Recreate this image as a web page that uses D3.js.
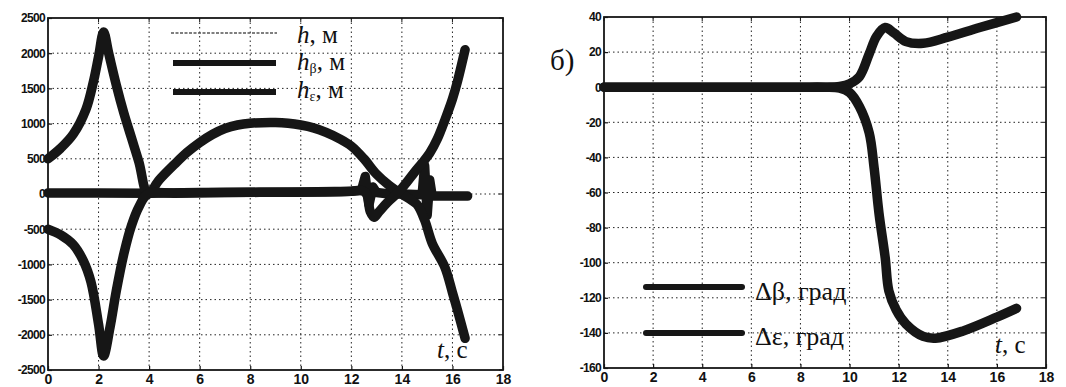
<!DOCTYPE html>
<html>
<head>
<meta charset="utf-8">
<script src="https://cdn.jsdelivr.net/npm/d3@7"></script>
<style>
  body { margin: 0; background: #fff; }
  svg { display: block; }
  .tick text { font-family: "Liberation Sans", Arial, sans-serif; font-weight: bold; fill: #111; }
  .serif { font-family: "Liberation Serif", "DejaVu Serif", serif; fill: #111; }
</style>
</head>
<body>
<svg id="chart" width="1066" height="387"></svg>
<script>
// ---- data ----
const xTicks = [0, 2, 4, 6, 8, 10, 12, 14, 16, 18];
const leftYTicks = [2500, 2000, 1500, 1000, 500, 0, -500, -1000, -1500, -2000, -2500];
const rightYTicks = [40, 20, 0, -20, -40, -60, -80, -100, -120, -140, -160];

// h, м  (flat line near zero with spikes)
const hT = [0, 2, 4, 6, 8, 10, 12, 12.4, 12.55, 12.7, 12.85, 13.0, 13.5, 14.0, 14.8, 14.9, 15.0, 15.1, 15.2, 16.6];
const hV = [15, 15, 10, 20, 25, 30, 40, 50, 250, -150, 100, 20, 0, 0, -10, 400, -300, 200, -30, -30];

// h_beta, м
const hBetaT = [0, 0.5, 1.0, 1.5, 1.8, 2.0, 2.2, 2.4, 2.7, 3.0, 3.3, 3.6, 3.95, 4.4, 5.0, 5.5, 6.0, 6.5, 7.0, 7.5, 8.0, 9.0, 9.5, 10.0, 10.5, 11.0, 11.5, 12.0, 12.5, 13.0, 13.5, 13.9, 14.3, 14.6, 14.9, 15.2, 15.7, 16.0, 16.2, 16.5];
const hBetaV = [500, 650, 850, 1200, 1600, 1950, 2300, 2000, 1550, 1150, 800, 450, 0, 200, 420, 590, 730, 845, 930, 980, 1005, 1015, 1005, 980, 940, 875, 790, 680, 500, 280, 120, 20, -70, -150, -370, -700, -1040, -1400, -1650, -2050];

// h_eps, м
const hEpsT = [0, 0.5, 1.0, 1.4, 1.7, 2.0, 2.2, 2.45, 2.7, 3.0, 3.3, 3.6, 3.95, 5, 7, 9, 11, 12.0, 12.4, 12.6, 12.75, 12.9, 13.1, 13.4, 13.85, 14.2, 14.5, 14.8, 15.1, 15.4, 15.7, 16.0, 16.2, 16.5];
const hEpsV = [-500, -580, -720, -950, -1250, -1850, -2300, -1900, -1380, -850, -450, -180, 0, 10, 20, 25, 30, 40, 50, 0, -250, -330, -250, -130, 20, 170, 310, 440, 580, 780, 1050, 1350, 1600, 2050];

// delta beta, град
const dBetaT = [0, 2, 4, 6, 8, 9.0, 9.6, 10.0, 10.4, 10.8, 11.1, 11.45, 11.8, 12.3, 13.0, 14.0, 15.3, 16.8];
const dBetaV = [0, 0, 0, 0, 0, 0, 0.5, 2, 6, 19, 29, 34, 31, 26, 25, 28.5, 34, 40];

// delta eps, град
const dEpsT = [0, 2, 4, 6, 8, 9.0, 9.6, 10.0, 10.4, 10.8, 11.0, 11.2, 11.45, 11.6, 11.9, 12.3, 13.0, 13.5, 14.6, 16.0, 16.8];
const dEpsV = [0, 0, 0, 0, 0, 0, -0.5, -3, -11, -26, -46, -72, -97, -116, -127, -135, -142, -143, -139, -131, -126];

const zip = (ts, vs) => ts.map((t, i) => ({ t: t, v: vs[i] }));

const svg = d3.select("#chart");
const ink = "#161616";

// draws one MATLAB-like panel, returns scales
function drawPanel(cfg) {
    const x = d3.scaleLinear().domain([0, 18]).range([cfg.left, cfg.right]);
    const y = d3.scaleLinear().domain(cfg.yDomain).range([cfg.bottom, cfg.top]);
    const g = svg.append("g");

    // dotted grid
    g.selectAll(".gx").data(xTicks.slice(1, -1)).join("line")
        .attr("x1", d => x(d)).attr("x2", d => x(d))
        .attr("y1", cfg.top).attr("y2", cfg.bottom)
        .attr("stroke", "#222").attr("stroke-width", 1).attr("stroke-dasharray", "1.5,3");
    g.selectAll(".gy").data(cfg.yTicks.slice(1, -1)).join("line")
        .attr("x1", cfg.left).attr("x2", cfg.right)
        .attr("y1", d => y(d)).attr("y2", d => y(d))
        .attr("stroke", "#222").attr("stroke-width", 1).attr("stroke-dasharray", "1.5,3");

    // axes with inward ticks
    const xAxis = g.append("g").attr("transform", `translate(0,${cfg.bottom})`)
        .call(d3.axisBottom(x).tickValues(xTicks).tickSize(-4).tickPadding(6).tickFormat(d3.format("d")));
    const yAxis = g.append("g").attr("transform", `translate(${cfg.left},0)`)
        .call(d3.axisLeft(y).tickValues(cfg.yTicks).tickSize(-4).tickPadding(3).tickFormat(d => String(d)));
    [xAxis, yAxis].forEach(a => {
        a.select(".domain").remove();
        a.selectAll(".tick line").attr("stroke", ink).attr("stroke-width", 1.2);
    });
    xAxis.selectAll(".tick text").style("font-size", "14px").attr("dy", "0.55em");
    yAxis.selectAll(".tick text").style("font-size", "12px").style("letter-spacing", "-0.7px");

    // ticks on top and right edges too
    g.selectAll(".tt").data(xTicks).join("line")
        .attr("x1", d => x(d)).attr("x2", d => x(d))
        .attr("y1", cfg.top).attr("y2", cfg.top + 4).attr("stroke", ink);
    g.selectAll(".tr").data(cfg.yTicks).join("line")
        .attr("x1", cfg.right - 4).attr("x2", cfg.right)
        .attr("y1", d => y(d)).attr("y2", d => y(d)).attr("stroke", ink);

    // frame
    g.append("rect")
        .attr("x", cfg.left).attr("y", cfg.top)
        .attr("width", cfg.right - cfg.left).attr("height", cfg.bottom - cfg.top)
        .attr("fill", "none").attr("stroke", ink).attr("stroke-width", 1.8);

    return { x: x, y: y, g: g };
}

function drawCurve(p, data, curve) {
    const line = d3.line().x(d => p.x(d.t)).y(d => p.y(d.v)).curve(curve);
    p.g.append("path").datum(data)
        .attr("d", line)
        .attr("fill", "none").attr("stroke", ink)
        .attr("stroke-width", 9.5).attr("stroke-linecap", "round").attr("stroke-linejoin", "round");
}

// ---- left panel ----
const L = drawPanel({ left: 48, right: 503, top: 18, bottom: 370, yDomain: [-2500, 2500], yTicks: leftYTicks });
drawCurve(L, zip(hT, hV), d3.curveLinear);
drawCurve(L, zip(hBetaT, hBetaV), d3.curveCatmullRom.alpha(0.5));
drawCurve(L, zip(hEpsT, hEpsV), d3.curveCatmullRom.alpha(0.5));

// legend (left)
svg.append("line").attr("x1", 171).attr("x2", 277).attr("y1", 33).attr("y2", 33)
    .attr("stroke", "#555").attr("stroke-width", 1.5).attr("stroke-dasharray", "3,1.5");
[63, 92].forEach(yy => {
    svg.append("line").attr("x1", 173).attr("x2", 276).attr("y1", yy).attr("y2", yy)
        .attr("stroke", ink).attr("stroke-width", 6);
});
const legL = [
    { y: 43, sub: "" },
    { y: 70, sub: "β" },
    { y: 98, sub: "ε" }
];
legL.forEach(d => {
    const t = svg.append("text").attr("class", "serif").attr("x", 297).attr("y", d.y).attr("font-size", 25);
    t.append("tspan").attr("font-style", "italic").text("h");
    if (d.sub) t.append("tspan").attr("font-size", 14).attr("dy", 3).text(d.sub);
    t.append("tspan").attr("dy", d.sub ? -3 : 0).text(", м");
});
const tl = svg.append("text").attr("class", "serif").attr("x", 437).attr("y", 358).attr("font-size", 25);
tl.append("tspan").attr("font-style", "italic").text("t");
tl.append("tspan").text(", с");

// ---- right panel ----
const R = drawPanel({ left: 604, right: 1046, top: 17, bottom: 368, yDomain: [-160, 40], yTicks: rightYTicks });
drawCurve(R, zip(dBetaT, dBetaV), d3.curveCatmullRom.alpha(0.5));
drawCurve(R, zip(dEpsT, dEpsV), d3.curveCatmullRom.alpha(0.5));

svg.append("text").attr("class", "serif").attr("x", 550).attr("y", 70).attr("font-size", 29).text("б)");

[{ y: 287, txt: "Δβ, град", ty: 300 }, { y: 333, txt: "Δε, град", ty: 345 }].forEach(d => {
    svg.append("line").attr("x1", 646).attr("x2", 742).attr("y1", d.y).attr("y2", d.y)
        .attr("stroke", ink).attr("stroke-width", 6).attr("stroke-linecap", "round");
    svg.append("text").attr("class", "serif").attr("x", 755).attr("y", d.ty).attr("font-size", 26).text(d.txt);
});
const tr = svg.append("text").attr("class", "serif").attr("x", 995).attr("y", 353).attr("font-size", 25);
tr.append("tspan").attr("font-style", "italic").text("t");
tr.append("tspan").text(", с");
</script>
</body>
</html>
